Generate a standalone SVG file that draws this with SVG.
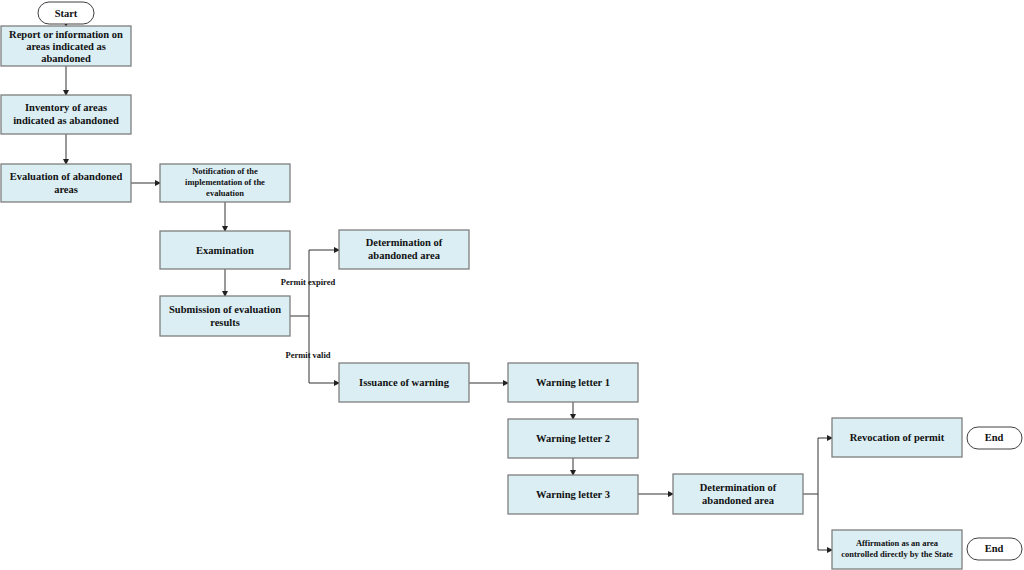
<svg xmlns="http://www.w3.org/2000/svg" width="1024" height="570" viewBox="0 0 1024 570">
<style>
.b{fill:#dbeef4;stroke:#7f7f7f;stroke-width:1.3}
.p{fill:#fff;stroke:#404040;stroke-width:1}
text{font-family:"Liberation Serif",serif;font-weight:bold;font-size:10.5px;fill:#111;text-anchor:middle}
.s{font-size:8.5px}
.c path{fill:none;stroke:#333;stroke-width:1;marker-end:url(#a)}
.c path.n{marker-end:none}
</style>
<defs><marker id="a" markerWidth="6" markerHeight="6" refX="5" refY="3" orient="auto" markerUnits="userSpaceOnUse"><path d="M0,0L6,3L0,6z" fill="#222"/></marker></defs>
<rect width="1024" height="570" fill="#fff"/>
<g class="c">
<path d="M66,24V26"/>
<path d="M66,66V95"/>
<path d="M66,134V164"/>
<path d="M131,183H160"/>
<path d="M225,202V231"/>
<path d="M225,269V296"/>
<path class="n" d="M290,316H309"/>
<path d="M309,316V250H339"/>
<path d="M309,316V383H339"/>
<path d="M469,383H508"/>
<path d="M573,402V419"/>
<path d="M573,458V475"/>
<path d="M638,494H673"/>
<path class="n" d="M803,494H818"/>
<path d="M818,494V438H832"/>
<path d="M818,494V550H832"/>
</g>
<g id="start"><rect class="p" x="38" y="2" width="56" height="22" rx="11"/><text x="66" y="17">Start</text></g>
<g id="n1"><rect class="b" x="1" y="26" width="130" height="40"/><text x="66" y="38">Report or information on</text><text x="66" y="50">areas indicated as</text><text x="66" y="62">abandoned</text></g>
<g id="n2"><rect class="b" x="1" y="95" width="130" height="39"/><text x="66" y="111">Inventory of areas</text><text x="66" y="124">indicated as abandoned</text></g>
<g id="n3"><rect class="b" x="1" y="164" width="130" height="38"/><text x="66" y="180">Evaluation of abandoned</text><text x="66" y="193">areas</text></g>
<g id="n4"><rect class="b" x="160" y="164" width="130" height="38"/><text class="s" x="225" y="174">Notification of the</text><text class="s" x="225" y="185">implementation of the</text><text class="s" x="225" y="196">evaluation</text></g>
<g id="n5"><rect class="b" x="160" y="231" width="130" height="38"/><text x="225" y="254">Examination</text></g>
<g id="n6"><rect class="b" x="160" y="296" width="130" height="40"/><text x="225" y="313">Submission of evaluation</text><text x="225" y="326">results</text></g>
<g id="n7"><rect class="b" x="339" y="230" width="130" height="39"/><text x="404" y="246">Determination of</text><text x="404" y="259">abandoned area</text></g>
<g id="n8"><rect class="b" x="339" y="363" width="130" height="39"/><text x="404" y="386">Issuance of warning</text></g>
<g id="n9"><rect class="b" x="508" y="363" width="130" height="39"/><text x="573" y="386">Warning letter 1</text></g>
<g id="n10"><rect class="b" x="508" y="419" width="130" height="39"/><text x="573" y="442">Warning letter 2</text></g>
<g id="n11"><rect class="b" x="508" y="475" width="130" height="39"/><text x="573" y="498">Warning letter 3</text></g>
<g id="n12"><rect class="b" x="673" y="474" width="130" height="40"/><text x="738" y="491">Determination of</text><text x="738" y="504">abandoned area</text></g>
<g id="n13"><rect class="b" x="832" y="418" width="130" height="39"/><text x="897" y="441">Revocation of permit</text></g>
<g id="n14"><rect class="b" x="832" y="530" width="130" height="39"/><text class="s" x="897" y="546">Affirmation as an area</text><text class="s" x="897" y="557">controlled directly by the State</text></g>
<g id="end1"><rect class="p" x="967" y="427" width="55" height="22" rx="11"/><text x="994" y="441">End</text></g>
<g id="end2"><rect class="p" x="967" y="538" width="55" height="22" rx="11"/><text x="994" y="552">End</text></g>
<g id="labels"><text class="s" x="308" y="285">Permit expired</text><text class="s" x="308" y="358">Permit valid</text></g>
</svg>
